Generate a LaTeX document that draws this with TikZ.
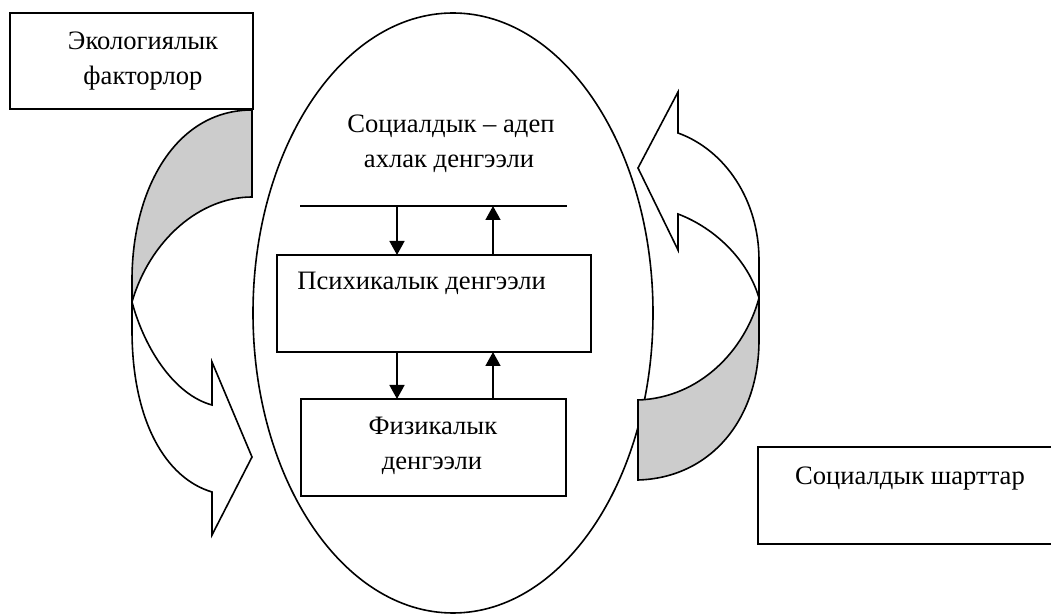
\documentclass[tikz,border=0pt]{standalone}
\usepackage{fontspec}
\setmainfont{Liberation Serif}
\usetikzlibrary{arrows.meta,shapes.geometric}
\definecolor{backgray}{RGB}{204,204,204}
\tikzset{
  ln/.style={line width=0.8pt, line join=miter},
  boxnode/.style={draw, line width=0.8pt, inner sep=0pt, outer sep=0pt},
  txt/.style={inner sep=0pt, font=\fontsize{13.3}{17}\selectfont},
  arr/.style={line width=0.8pt, -{Triangle[width=7.5pt,length=7pt]}},
  backpart/.style={ln, fill=backgray},
  frontpart/.style={ln, fill=white}
}
\begin{document}
\begin{tikzpicture}[x=0.5pt,y=-0.5pt]
\clip (0,0) rectangle (1051,614);
\fill[white] (0,0) rectangle (1051,614);

% central ellipse
\node[ellipse, draw, line width=0.8pt, minimum width=200pt, minimum height=300pt, inner sep=0pt] (ell) at (453,313) {};

% left box
\node[boxnode, minimum width=121.5pt, minimum height=48pt] (eco) at (131.5,61) {};
\node[txt, anchor=base] (ecoA) at (143,50) {Экологиялык};
\node[txt, anchor=base] (ecoB) at (143,85) {факторлор};

% right box (right edge beyond the picture)
\node[boxnode, minimum width=170pt, minimum height=48.5pt] (soc) at (928,495.5) {};
\node[txt, anchor=base] (socT) at (910,485) {Социалдык шарттар};

% text at top of ellipse
\node[txt, anchor=base] (morA) at (451,133) {Социалдык – адеп};
\node[txt, anchor=base] (morB) at (449,168) {ахлак денгээли};

% horizontal line
\coordinate (hl) at (300,206);
\coordinate (hr) at (567,206);
\draw[ln] (hl) -- (hr);
\coordinate (a1) at (397,206);
\coordinate (a2) at (493,206);

% psychic box
\node[boxnode, minimum width=157pt, minimum height=48.5pt] (psy) at (434,303.5) {};
\node[txt, anchor=base west] (psyT) at (297,290) {Психикалык денгээли};

% physical box
\node[boxnode, minimum width=132.5pt, minimum height=48.5pt] (phys) at (433.5,447.5) {};
\node[txt, anchor=base] (physA) at (433,435) {Физикалык};
\node[txt, anchor=base] (physB) at (432,470) {денгээли};

% arrows
\draw[arr] (a1) -- (a1 |- psy.north);
\draw[arr] (a2 |- psy.north) -- (a2);
\draw[arr] (a1 |- psy.south) -- (a1 |- phys.north);
\draw[arr] (a2 |- phys.north) -- (a2 |- psy.south);

% left curved arrow
\draw[backpart] (252,110) .. controls (175,110) and (132,190) .. (132,280)
  -- (132,302) .. controls (150,240) and (200,197) .. (252,197) -- cycle;
\draw[frontpart] (132,302) -- (132,330) .. controls (132,420) and (165,478) .. (212,492)
  -- (212,535) -- (252,457) -- (212,362) -- (212,405)
  .. controls (175,395) and (145,350) .. (132,302) -- cycle;

% right curved arrow
\draw[backpart] (638,400) -- (638,480) .. controls (710,478) and (759,420) .. (759,340)
  -- (759,298) .. controls (745,350) and (700,398) .. (638,400) -- cycle;
\draw[frontpart] (759,298) -- (759,260) .. controls (759,200) and (725,150) .. (678,133)
  -- (678,92) -- (638,168) -- (678,250) -- (678,214)
  .. controls (715,228) and (748,260) .. (759,298) -- cycle;
\end{tikzpicture}
\end{document}
